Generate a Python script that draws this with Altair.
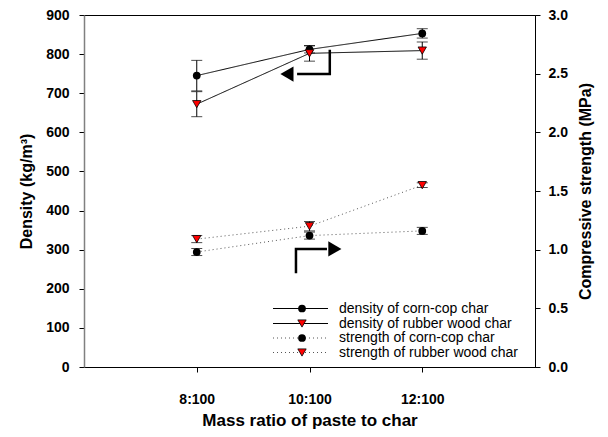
import altair as alt
import pandas as pd

# ---- data ----
ratio = [8, 10, 12]
dens_corn = [745, 812, 853]
dens_corn_err = [39, 9, 12]
dens_rubber = [672, 802, 809]
dens_rubber_err = [32, 20, 22]
str_corn = [0.98, 1.12, 1.16]
str_corn_err = [0.03, 0.03, 0.03]
str_rubber = [1.09, 1.20, 1.55]
str_rubber_err = [0.03, 0.04, 0.02]

legend_labels = [
    "density of corn-cop char",
    "density of rubber wood char",
    "strength of corn-cop char",
    "strength of rubber wood char",
]

# arrow annotations in data units (x = ratio, y = density scale)
arrow_left_x = [10.36, 10.36, 9.78]
arrow_left_y = [811, 749, 749]
arrow_left_head = (9.6, 749)
arrow_right_x = [9.76, 9.76, 10.31]
arrow_right_y = [240, 302, 302]
arrow_right_head = (10.45, 302)

FONT = "Liberation Sans"


def series_df(vals, errs, name):
    return pd.DataFrame({
        "ratio": ratio,
        "v": vals,
        "lo": [a - b for a, b in zip(vals, errs)],
        "hi": [a + b for a, b in zip(vals, errs)],
        "s": name,
    })


dc = series_df(dens_corn, dens_corn_err, "dc")
dr = series_df(dens_rubber, dens_rubber_err, "dr")
sc = series_df(str_corn, str_corn_err, "sc")
sr = series_df(str_rubber, str_rubber_err, "sr")

x_enc = alt.X(
    "ratio:Q",
    scale=alt.Scale(domain=[6, 14], nice=False),
    axis=alt.Axis(
        values=ratio, labelExpr="datum.value + ':100'", title="Mass ratio of paste to char",
        grid=False, tickSize=5, labelPadding=20, titlePadding=6,
        labelFont=FONT, labelFontWeight="bold", labelFontSize=14,
        titleFont=FONT, titleFontWeight="bold", titleFontSize=17,
        domainColor="black", tickColor="black", labelColor="black", titleColor="black",
    ),
)


def group(dfs, scale, axis, line_dash, line_color):
    layers = []

    def Y(field):
        return alt.Y(field, scale=scale, axis=axis)

    for d in dfs:
        base = alt.Chart(d)
        line = base.mark_line(color=line_color, strokeWidth=1, strokeDash=line_dash).encode(
            x=x_enc, y=Y("v:Q"))
        rule = base.mark_rule(color="black", strokeWidth=1).encode(
            x=x_enc, y=Y("lo:Q"), y2="hi:Q")
        cap_lo = base.mark_tick(orient="horizontal", size=11, thickness=1, color="black").encode(
            x=x_enc, y=Y("lo:Q"))
        cap_hi = base.mark_tick(orient="horizontal", size=11, thickness=1, color="black").encode(
            x=x_enc, y=Y("hi:Q"))
        if d["s"].iloc[0] in ("dc", "sc"):
            pt = base.mark_point(shape="circle", filled=True, size=60, color="black", opacity=1)
        else:
            pt = base.mark_point(shape="triangle-down", filled=True, size=70, fill="red",
                                 stroke="black", strokeWidth=0.8, opacity=1)
        layers += [line, rule, cap_lo, cap_hi, pt.encode(x=x_enc, y=Y("v:Q"))]
    return layers


dens_scale = alt.Scale(domain=[0, 900], nice=False)
str_scale = alt.Scale(domain=[0, 3], nice=False)

dens_axis = alt.Axis(
    title="Density (kg/m³)", orient="left", values=list(range(0, 901, 100)), grid=False, tickSize=5,
    labelPadding=10, titlePadding=11, labelFont=FONT, labelFontWeight="bold", labelFontSize=14,
    titleFont=FONT, titleFontWeight="bold", titleFontSize=16,
    domainColor="#808080", domainWidth=1.5, tickColor="black", labelColor="black", titleColor="black",
)
str_axis = alt.Axis(
    title="Compressive strength (MPa)", orient="right", values=[0, 0.5, 1, 1.5, 2, 2.5, 3],
    format=".1f", grid=False, tickSize=5, labelPadding=8, titlePadding=10,
    titleAngle=270, titleBaseline="top",
    labelFont=FONT, labelFontWeight="bold", labelFontSize=14,
    titleFont=FONT, titleFontWeight="bold", titleFontSize=16,
    domainColor="black", tickColor="black", labelColor="black", titleColor="black",
)

dens_layers = group([dc, dr], dens_scale, dens_axis, [1, 0], "black")

# arrows
al = pd.DataFrame({"ratio": arrow_left_x, "v": arrow_left_y, "o": [0, 1, 2]})
ar = pd.DataFrame({"ratio": arrow_right_x, "v": arrow_right_y, "o": [0, 1, 2]})
heads = pd.DataFrame({
    "ratio": [arrow_left_head[0], arrow_right_head[0]],
    "v": [arrow_left_head[1], arrow_right_head[1]],
    "shape": ["triangle-left", "triangle-right"],
})
for a in (al, ar):
    dens_layers.append(
        alt.Chart(a).mark_line(color="black", strokeWidth=2.5).encode(
            x=x_enc, y=alt.Y("v:Q", scale=dens_scale, axis=dens_axis), order="o:Q"))
dens_layers.append(
    alt.Chart(heads).mark_point(filled=True, size=230, color="black", opacity=1).encode(
        x=x_enc, y=alt.Y("v:Q", scale=dens_scale, axis=dens_axis),
        shape=alt.Shape("shape:N", scale=None, legend=None)))

str_layers = group([sc, sr], str_scale, str_axis, [1, 3], "#555555")

# manual legend (layout in pixels)
leg_layers = []
row_y = [293.5, 308.5, 323, 337.5]
one = pd.DataFrame({"a": [0]})
for i, lab in enumerate(legend_labels):
    y = row_y[i]
    dash = [1, 0] if i < 2 else [1, 3]
    col = "black" if i < 2 else "#555555"
    leg_layers.append(alt.Chart(one).mark_rule(color=col, strokeWidth=1, strokeDash=dash).encode(
        x=alt.value(189), x2=alt.value(244), y=alt.value(y)))
    if i % 2 == 0:
        pt = alt.Chart(one).mark_point(shape="circle", filled=True, size=60, color="black", opacity=1)
    else:
        pt = alt.Chart(one).mark_point(shape="triangle-down", filled=True, size=70, fill="red",
                                       stroke="black", strokeWidth=0.8, opacity=1)
    leg_layers.append(pt.encode(x=alt.value(218), y=alt.value(y)))
    leg_layers.append(alt.Chart(one).mark_text(
        text=lab, align="left", baseline="middle", font=FONT, fontSize=14, color="black").encode(
        x=alt.value(255), y=alt.value(y)))

dens = alt.layer(*dens_layers)
stren = alt.layer(*str_layers)
leg = alt.layer(*leg_layers)

chart = alt.layer(dens, stren, leg).resolve_scale(y="independent").properties(
    width=451, height=352,
    autosize=alt.AutoSizeParams(type="none"),
    padding={"left": 76, "top": 7, "right": 65, "bottom": 62},
).configure(background="white").configure_view(stroke="black", strokeWidth=1)

chart.save("out.html", embed_options={"renderer": "svg", "actions": False})
